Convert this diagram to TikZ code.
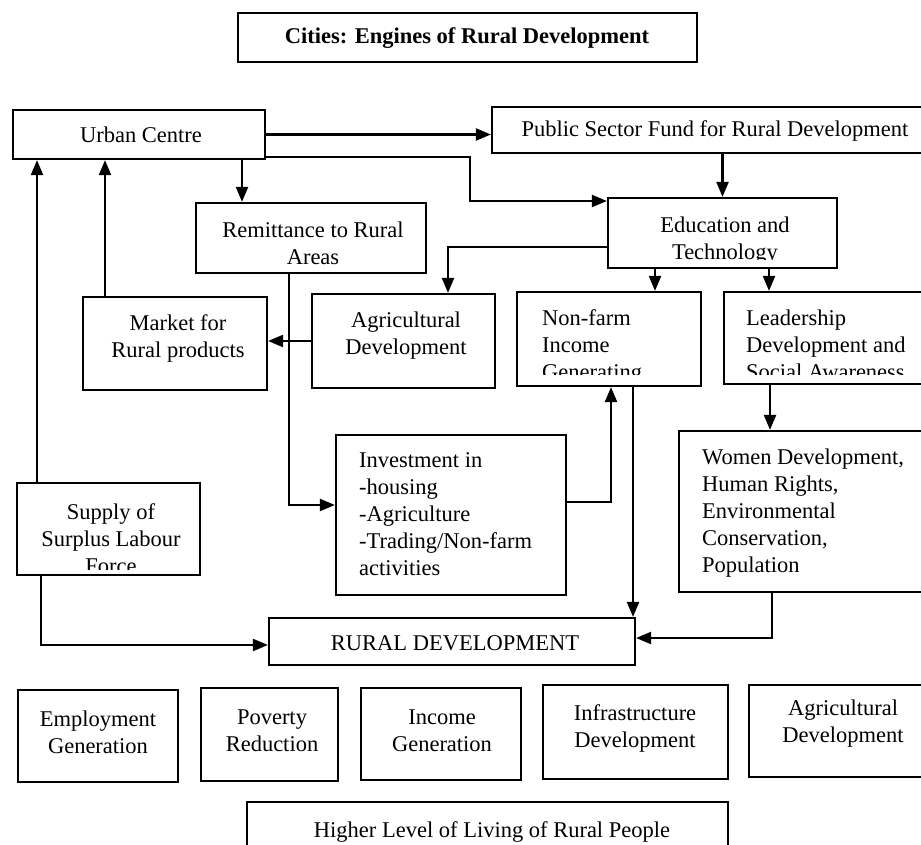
\documentclass[tikz,border=0pt]{standalone}
\usepackage{fontspec}
\setmainfont{Liberation Serif}
\usetikzlibrary{arrows.meta,fit}

\begin{document}
\begin{tikzpicture}[x=1pt,y=-1pt,
  box/.style={draw, line width=2.2pt, inner sep=0pt},
  txt/.style={inner sep=0pt, font=\fontsize{22.5}{27}\selectfont},
  ltxt/.style={txt, align=left, anchor=west},
  ctxt/.style={txt, align=center},
  arr/.style={line width=2.2pt, -{Triangle[length=15pt,width=12pt]}}]
  \clip (0,0) rectangle (921,845);
  \node[box, fit={(238,13) (697,62)}] (title) {};
  \node[txt, font=\fontsize{22.5}{27}\selectfont\bfseries] (title-t) at (467,38) {Cities: Engines of Rural Development};
  \node[box, fit={(13,110) (265,159)}] (urban) {};
  \node[txt] (urban-t) at (141,135) {Urban Centre};
  \node[box, fit={(492,107) (940,153)}] (psf) {};
  \node[txt] (psf-t) at (715,131) {Public Sector Fund for Rural Development};
  \node[box, fit={(196,203) (426,273)}] (remit) {};
  \node[ctxt] (remit-t) at (313,243.5) {Remittance to Rural\\Areas};
  \node[box, fit={(608,198) (837,268)}] (edu) {};
  \begin{scope}
    \clip (edu.north west) rectangle ([yshift=10pt]edu.south east);
    \node[ctxt] (edu-t) at (725,240.5) {Education and\\Technology};
  \end{scope}
  \node[box, fit={(83,297) (267,390)}] (market) {};
  \node[ctxt] (market-t) at (178,338.5) {Market for\\Rural products};
  \node[box, fit={(312,294) (495,388)}] (agri) {};
  \node[ctxt] (agri-t) at (406,336) {Agricultural\\Development};
  \node[box, fit={(517,292) (701,386)}] (nonfarm) {};
  \begin{scope}
    \clip (nonfarm.north west) rectangle ([yshift=13pt]nonfarm.south east);
    \node[ltxt] (nonfarm-t) at (542,347.5) {Non-farm\\Income\\Generating};
  \end{scope}
  \node[box, fit={(724,292) (940,384)}] (leader) {};
  \begin{scope}
    \clip (leader.north west) rectangle ([yshift=11pt]leader.south east);
    \node[ltxt] (leader-t) at (746,344.5) {Leadership\\Development and\\Social Awareness};
  \end{scope}
  \node[box, fit={(336,435) (566,595)}] (invest) {};
  \node[ltxt] (invest-t) at (359,514.5) {Investment in\\-housing\\-Agriculture\\-Trading/Non-farm\\activities};
  \node[box, fit={(17,483) (200,575)}] (supply) {};
  \begin{scope}
    \clip (supply.north west) rectangle ([yshift=7pt]supply.south east);
    \node[ctxt] (supply-t) at (111,538.5) {Supply of\\Surplus Labour\\Force};
  \end{scope}
  \node[box, fit={(679,431) (940,592)}] (women) {};
  \node[ltxt] (women-t) at (702,513) {Women Development,\\Human Rights,\\Environmental\\Conservation,\\Population};
  \node[box, fit={(269,618) (635,665)}] (rd) {};
  \node[txt] (rd-t) at (455,643) {RURAL DEVELOPMENT};
  \node[box, fit={(18,690) (178,782)}] (emp) {};
  \node[ctxt] (emp-t) at (98,732) {Employment\\Generation};
  \node[box, fit={(201,688) (338,781)}] (pov) {};
  \node[ctxt] (pov-t) at (272,731) {Poverty\\Reduction};
  \node[box, fit={(361,688) (521,780)}] (inc) {};
  \node[ctxt] (inc-t) at (442,731) {Income\\Generation};
  \node[box, fit={(543,685) (728,779)}] (infra) {};
  \node[ctxt] (infra-t) at (635,728.5) {Infrastructure\\Development};
  \node[box, fit={(749,685) (940,777)}] (agri2) {};
  \node[ctxt] (agri2-t) at (843,723.5) {Agricultural\\Development};
  \node[box, fit={(247,802) (728,870)}] (higher) {};
  \node[txt] (higher-t) at (492,832) {Higher Level of Living of Rural People};
  \coordinate (ubend) at (470,201);
  \draw[arr] (urban.east) -- (urban.east -| psf.west);
  \draw[arr] ([yshift=3pt]urban.south east) -| (ubend) -- (ubend -| edu.west);
  \draw[arr] (edu.north |- psf.south) -- (edu.north);
  \draw[arr] ([xshift=-69pt]remit.north |- urban.south) -- ([xshift=-69pt]remit.north);
  \draw[arr] ([yshift=-14pt]edu.west) -| ([xshift=44.5pt]agri.north);
  \draw[arr] (agri.west) -- (agri.west -| market.east);
  \draw[arr] ([xshift=-70pt]market.north) -- ([xshift=-70pt]market.north |- urban.south);
  \draw[arr] ([xshift=-71.5pt]supply.north) -- ([xshift=-71.5pt]supply.north |- urban.south);
  \draw[arr] ([xshift=-22pt]remit.south) |- ([yshift=10pt]invest.west);
  \draw[arr] ([yshift=13pt]invest.east) -| ([xshift=2pt]nonfarm.south);
  \draw[arr] ([xshift=24pt]nonfarm.south) -- ([xshift=24pt]nonfarm.south |- rd.north);
  \draw[arr] ([xshift=-67.5pt]edu.south) -- ([xshift=-67.5pt]edu.south |- nonfarm.north);
  \draw[arr] ([xshift=46.5pt]edu.south) -- ([xshift=46.5pt]edu.south |- leader.north);
  \draw[arr] ([xshift=-39.5pt]women.north |- leader.south) -- ([xshift=-39.5pt]women.north);
  \draw[arr] ([xshift=-37.5pt]women.south) |- ([yshift=3.5pt]rd.east);
  \draw[arr] ([xshift=-67.5pt]supply.south) |- ([yshift=-3.5pt]rd.west);
\end{tikzpicture}
\end{document}
